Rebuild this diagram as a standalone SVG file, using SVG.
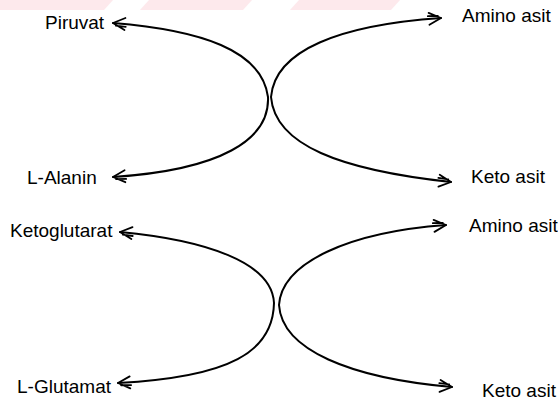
<svg xmlns="http://www.w3.org/2000/svg" width="558" height="402" viewBox="0 0 558 402">
  <style>
    .lbl { font-family: "Liberation Sans", Arial, sans-serif; font-size: 19px; fill: #000; }
    .arc { fill: none; stroke: #000; stroke-width: 2; stroke-linecap: round; stroke-linejoin: round;
           marker-start: url(#head); marker-end: url(#head); }
    .band { fill: #fde9ec; }
  </style>
  <defs>
    <!-- open, hand-drawn style arrowhead; tip at the origin, pointing along +x -->
    <marker id="head" viewBox="-16 -9 18 18" refX="0" refY="0" markerWidth="18" markerHeight="18"
            markerUnits="userSpaceOnUse" orient="auto-start-reverse">
      <path d="M-12,-6 L0,0 L-12,6 M-3,-2.4 L-13,-2.8" fill="none" stroke="#000" stroke-width="1.8"
            stroke-linecap="round" stroke-linejoin="round"/>
    </marker>
  </defs>

  <!-- pale striped band along the top edge -->
  <g id="top-band">
    <polygon class="band" points="0,10 0,0 113,0 104,10"/>
    <polygon class="band" points="140,10 149,0 252,0 243,10"/>
    <polygon class="band" points="290,10 299,0 400,0 391,10"/>
  </g>

  <!-- connectors -->
  <g id="connectors">
    <path id="arc-piruvat-alanin" class="arc"
          d="M113,23 C200,30 262,50 268,97 C270,140 220,170 113,177"/>
    <path id="arc-amino-keto-1" class="arc"
          d="M441,18 C340,25 275,50 271,97 C275,145 340,170 451,182"/>
    <path id="arc-ketoglutarat-glutamat" class="arc"
          d="M120,232 C205,240 272,262 274,303 C273,352 230,377 118,383"/>
    <path id="arc-amino-keto-2" class="arc"
          d="M446,225 C350,232 282,262 279,305 C282,350 350,378 452,387"/>
  </g>

  <!-- labels -->
  <g id="piruvat"><text class="lbl" x="45" y="29">Piruvat</text></g>
  <g id="l-alanin"><text class="lbl" x="27" y="184">L-Alanin</text></g>
  <g id="amino-asit-1"><text class="lbl" x="462" y="22">Amino asit</text></g>
  <g id="keto-asit-1"><text class="lbl" x="471" y="183">Keto asit</text></g>
  <g id="ketoglutarat"><text class="lbl" x="10" y="237">Ketoglutarat</text></g>
  <g id="l-glutamat"><text class="lbl" x="17" y="393">L-Glutamat</text></g>
  <g id="amino-asit-2"><text class="lbl" x="469" y="232">Amino asit</text></g>
  <g id="keto-asit-2"><text class="lbl" x="482" y="397">Keto asit</text></g>
</svg>
